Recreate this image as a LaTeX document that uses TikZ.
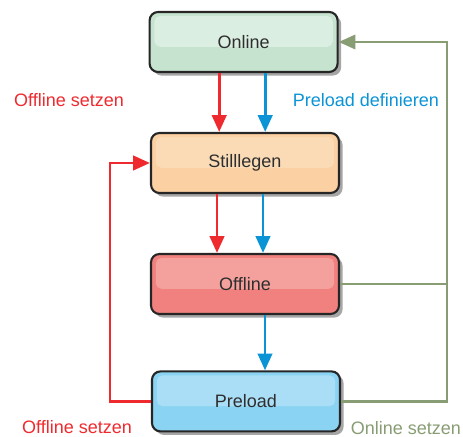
\documentclass[tikz,border=0pt]{standalone}
\usepackage{fontspec}
\setmainfont{Liberation Sans}
\usetikzlibrary{arrows.meta, calc, shadows}
\definecolor{onlinebg}{HTML}{C5E3CF}
\definecolor{onlinehi}{HTML}{DAEEE1}
\definecolor{quietbg}{HTML}{FBD0A2}
\definecolor{quiethi}{HTML}{FADBB6}
\definecolor{offbg}{HTML}{F1817E}
\definecolor{offhi}{HTML}{F4A09C}
\definecolor{prebg}{HTML}{8BD3F3}
\definecolor{prehi}{HTML}{A9DEF6}
\definecolor{setred}{HTML}{EE2A2F}
\definecolor{defblue}{HTML}{0A94D6}
\definecolor{backgreen}{HTML}{889D74}
\definecolor{boxtext}{HTML}{2E2E2E}
\newcommand{\labfont}{\fontsize{12.8}{15}\selectfont}

\begin{document}
\begin{tikzpicture}[
  >={Triangle[length=4.2mm, width=3.6mm]},
  state/.style 2 args={draw=black!85, line width=1.5pt, rounded corners=6pt,
    fill=#1, minimum width=4.7cm, minimum height=1.5cm,
    font=\labfont, text=boxtext,
    drop shadow={shadow xshift=0.09cm, shadow yshift=-0.09cm,
      fill=black!35, opacity=1},
    path picture={\fill[#2, rounded corners=4pt]
      ($(path picture bounding box.north west)+(0.12,-0.1)$) rectangle
      ($(path picture bounding box.east)+(-0.12,-0.12)$);}},
  flow/.style={->, line width=2pt},
]

\useasboundingbox (0,0) rectangle (11.575,10.925);

% States
\node[state={onlinebg}{onlinehi}] (online) at (6.09,9.875) {Online};
\node[state={quietbg}{quiethi}] (still) at (6.125,6.85) {Stilllegen};
\node[state={offbg}{offhi}] (offline) at (6.125,3.825) {Offline};
\node[state={prebg}{prehi}] (preload) at (6.15,0.89) {Preload};

% Downward transitions
\draw[flow, setred] ([xshift=-0.61cm]online.south) -- ([xshift=-0.61cm]online.south |- still.north);
\draw[flow, defblue] ([xshift=0.54cm]online.south) -- ([xshift=0.54cm]online.south |- still.north);
\draw[flow, setred] ([xshift=-0.7cm]still.south) -- ([xshift=-0.7cm]still.south |- offline.north);
\draw[flow, defblue] ([xshift=0.45cm]still.south) -- ([xshift=0.45cm]still.south |- offline.north);
\draw[flow, defblue] ([xshift=0.5cm]offline.south) -- ([xshift=0.5cm]offline.south |- preload.north);

% Back to Stilllegen
\draw[flow, setred] (preload.west) -- ++(-1.025,0) |- (still.west);

% Back to Online
\coordinate (bus) at (11.175,0);
\draw[backgreen, line width=1.7pt] (offline.east) -- (offline.east -| bus);
\draw[flow, backgreen, line width=1.7pt] (preload.east) -- (preload.east -| bus) |- (online.east);

% Labels
\node[font=\labfont, text=setred] (lbltop) at (1.725,8.425) {Offline setzen};
\node[font=\labfont, text=defblue] (lbldef) at (9.15,8.425) {Preload definieren};
\node[font=\labfont, text=setred, inner sep=1pt] (lblbot) at (1.925,0.24) {Offline setzen};
\node[font=\labfont, text=backgreen, inner sep=1pt] (lblon) at (10.15,0.23) {Online setzen};

\end{tikzpicture}
\end{document}
